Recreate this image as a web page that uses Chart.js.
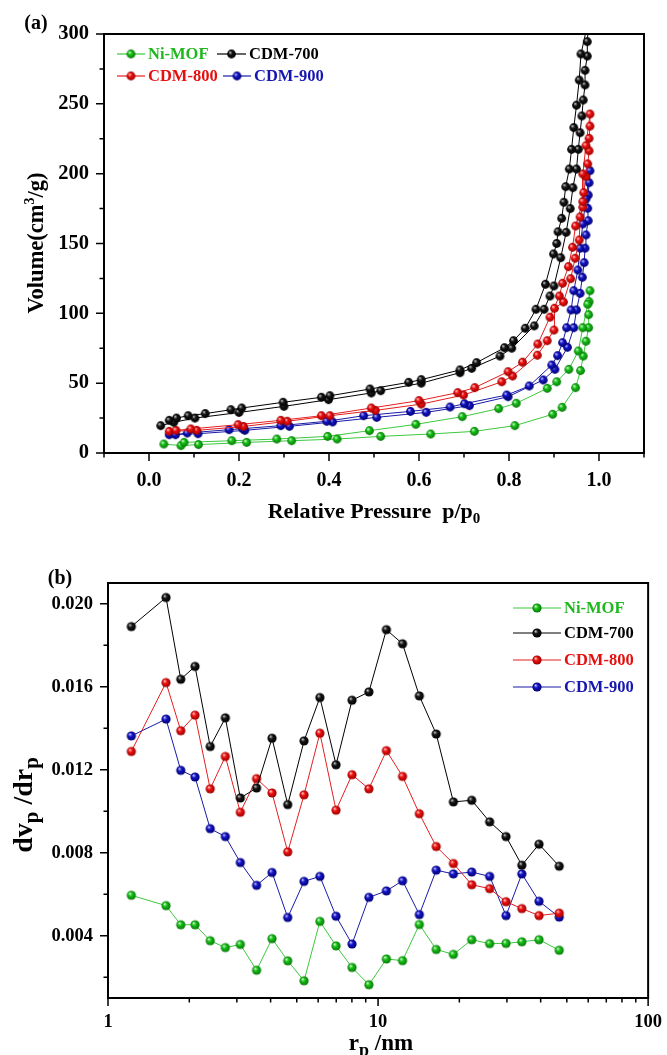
<!DOCTYPE html>
<html>
<head>
<meta charset="utf-8">
<script src="https://cdn.jsdelivr.net/npm/chart.js@4.4.0/dist/chart.umd.min.js"></script>
<style>
html, body { margin: 0; padding: 0; background: #fff; }
#wrap { position: relative; width: 667px; height: 1055px; }
.box { position: absolute; left: 0; width: 667px; }
#boxA { top: 0; height: 530px; }
#boxB { top: 530px; height: 525px; }
</style>
</head>
<body>
<div id="wrap">
  <div class="box" id="boxA"><canvas id="chartA"></canvas></div>
  <div class="box" id="boxB"><canvas id="chartB"></canvas></div>
</div>
<script>
// ---- (a) N2 isotherms: adsorption then desorption branch, p/p0 vs volume ----
const niAdsP = [0.033, 0.071, 0.110, 0.217, 0.317, 0.418, 0.515, 0.626, 0.723, 0.813, 0.897, 0.918, 0.948, 0.959, 0.965, 0.971, 0.977, 0.977, 0.978, 0.980];
const niAdsV = [6.4, 5.3, 6.0, 7.6, 8.8, 10.0, 11.9, 13.6, 15.5, 19.6, 27.7, 32.7, 46.8, 59.0, 69.4, 80.0, 89.7, 99.0, 108.3, 116.2];
const niDesP = [0.975, 0.964, 0.954, 0.933, 0.906, 0.885, 0.816, 0.777, 0.696, 0.593, 0.490, 0.397, 0.284, 0.184, 0.078];
const niDesV = [106.5, 89.7, 73.0, 59.9, 51.0, 46.3, 35.6, 31.8, 26.0, 20.5, 16.0, 11.9, 10.0, 8.8, 7.6];

const c700AdsP = [0.026, 0.055, 0.102, 0.200, 0.300, 0.399, 0.494, 0.515, 0.605, 0.691, 0.717, 0.780, 0.806, 0.856, 0.878, 0.891, 0.900, 0.915, 0.927, 0.936, 0.942, 0.950, 0.954, 0.958, 0.962, 0.965, 0.969, 0.969, 0.974, 0.974, 0.978];
const c700AdsV = [19.6, 22.0, 25.0, 29.0, 33.4, 38.2, 43.0, 44.6, 50.0, 57.5, 60.6, 69.4, 75.0, 91.0, 102.9, 112.4, 119.6, 139.8, 158.0, 175.0, 190.0, 203.3, 217.4, 229.3, 241.3, 252.7, 263.5, 274.0, 284.2, 294.5, 312.0];
const c700DesP = [0.960, 0.956, 0.950, 0.944, 0.939, 0.934, 0.926, 0.922, 0.917, 0.909, 0.906, 0.899, 0.881, 0.860, 0.836, 0.810, 0.790, 0.728, 0.691, 0.605, 0.577, 0.491, 0.402, 0.383, 0.298, 0.206, 0.182, 0.125, 0.087, 0.061, 0.045];
const c700DesV = [285.7, 267.0, 249.0, 233.0, 217.4, 203.3, 190.7, 179.5, 168.0, 158.4, 150.0, 142.5, 120.8, 102.9, 89.3, 80.4, 75.4, 64.7, 59.5, 52.5, 50.6, 45.8, 41.0, 39.9, 36.3, 32.2, 31.0, 28.2, 26.7, 25.0, 23.4];

const c800AdsP = [0.045, 0.106, 0.210, 0.307, 0.402, 0.503, 0.605, 0.699, 0.784, 0.808, 0.863, 0.885, 0.900, 0.901, 0.921, 0.937, 0.947, 0.956, 0.958, 0.964, 0.966, 0.971, 0.975, 0.978, 0.978, 0.980, 0.980];
const c800AdsV = [15.5, 16.2, 19.0, 22.7, 26.7, 30.5, 35.0, 41.5, 51.0, 55.1, 70.0, 80.4, 88.0, 103.6, 108.1, 124.8, 139.4, 152.5, 169.0, 176.0, 186.4, 197.8, 207.0, 216.4, 225.3, 234.0, 242.7];
const c800DesP = [0.971, 0.964, 0.964, 0.948, 0.941, 0.932, 0.919, 0.912, 0.891, 0.864, 0.830, 0.798, 0.724, 0.686, 0.600, 0.494, 0.383, 0.293, 0.198, 0.093, 0.060];
const c800DesV = [220.0, 199.8, 180.0, 162.5, 147.3, 133.4, 121.5, 112.4, 97.2, 78.0, 65.0, 58.2, 46.8, 43.2, 37.5, 32.2, 26.7, 23.4, 20.3, 17.2, 16.2];

const c900AdsP = [0.045, 0.109, 0.213, 0.312, 0.408, 0.506, 0.616, 0.712, 0.798, 0.876, 0.902, 0.930, 0.944, 0.950, 0.958, 0.963, 0.967, 0.969, 0.971, 0.976, 0.975, 0.976, 0.978, 0.980];
const c900AdsV = [13.1, 13.8, 16.2, 19.1, 22.2, 25.5, 29.1, 33.9, 40.3, 52.3, 59.9, 75.7, 89.7, 102.4, 114.3, 125.8, 136.3, 146.6, 156.1, 166.3, 175.2, 184.7, 193.5, 202.1];
const c900DesP = [0.971, 0.964, 0.958, 0.953, 0.944, 0.938, 0.928, 0.919, 0.908, 0.895, 0.845, 0.795, 0.701, 0.669, 0.581, 0.477, 0.395, 0.293, 0.208, 0.178, 0.085, 0.059];
const c900DesV = [181.9, 164.0, 146.6, 131.0, 116.2, 102.4, 89.7, 79.0, 69.7, 63.0, 48.0, 41.5, 35.3, 32.9, 29.8, 26.7, 22.7, 19.6, 17.4, 16.7, 14.3, 13.1];

const aXTicks = [0.0, 0.2, 0.4, 0.6, 0.8, 1.0];
const aXMinor = [-0.1, 0.1, 0.3, 0.5, 0.7, 0.9, 1.1];
const aYTicks = [0, 50, 100, 150, 200, 250, 300];
const aYMinor = [25, 75, 125, 175, 225, 275];

// ---- (b) pore size distribution ----
const poreR = [1.22, 1.64, 1.86, 2.10, 2.39, 2.72, 3.09, 3.55, 4.05, 4.63, 5.32, 6.09, 6.99, 8.01, 9.25, 10.74, 12.32, 14.22, 16.42, 19.01, 22.22, 25.90, 29.78, 34.07, 39.45, 46.86];
const niPsd = [0.00595, 0.00545, 0.00453, 0.00453, 0.00376, 0.00343, 0.00358, 0.00234, 0.00386, 0.00279, 0.00183, 0.00469, 0.00351, 0.00247, 0.00164, 0.00288, 0.00280, 0.00454, 0.00334, 0.00310, 0.00381, 0.00362, 0.00363, 0.00371, 0.00381, 0.00330];
const c700Psd = [0.01890, 0.02030, 0.01636, 0.01698, 0.01312, 0.01450, 0.01064, 0.01112, 0.01352, 0.01032, 0.01339, 0.01548, 0.01224, 0.01535, 0.01575, 0.01875, 0.01807, 0.01556, 0.01372, 0.01045, 0.01053, 0.00949, 0.00878, 0.00740, 0.00841, 0.00735];
const c800Psd = [0.01288, 0.01620, 0.01388, 0.01463, 0.01108, 0.01264, 0.00995, 0.01157, 0.01088, 0.00804, 0.01079, 0.01376, 0.01005, 0.01176, 0.01108, 0.01292, 0.01168, 0.00988, 0.00830, 0.00748, 0.00646, 0.00627, 0.00564, 0.00531, 0.00497, 0.00509];
const c900Psd = [0.01363, 0.01444, 0.01197, 0.01165, 0.00916, 0.00878, 0.00753, 0.00643, 0.00705, 0.00488, 0.00662, 0.00686, 0.00494, 0.00360, 0.00585, 0.00616, 0.00665, 0.00502, 0.00716, 0.00698, 0.00707, 0.00686, 0.00497, 0.00698, 0.00566, 0.00490];

const bXTicks = [1, 10, 100];
const bXMinor = [2, 3, 4, 5, 6, 7, 8, 9, 20, 30, 40, 50, 60, 70, 80, 90];
const bYTicks = [0.004, 0.008, 0.012, 0.016, 0.020];
const bYMinor = [0.002, 0.006, 0.010, 0.014, 0.018];

const seriesNames = ['Ni-MOF', 'CDM-700', 'CDM-800', 'CDM-900'];

const FONT = '"Liberation Serif", "Times New Roman", serif';

// shaded ball marker
function ball(body, hi, dark, r) {
    const c = document.createElement('canvas');
    const s = Math.ceil(r * 2 + 2);
    c.width = s; c.height = s;
    const g = c.getContext('2d');
    const cx = s / 2, cy = s / 2;
    const grad = g.createRadialGradient(cx - r * 0.35, cy - r * 0.4, r * 0.05, cx, cy, r);
    grad.addColorStop(0, hi);
    grad.addColorStop(0.4, body);
    grad.addColorStop(1, dark);
    g.fillStyle = grad;
    g.beginPath();
    g.arc(cx, cy, r, 0, Math.PI * 2);
    g.fill();
    return c;
}

const colors = [
    { line: '#3cc83c', text: '#1fb81f', body: '#16c016', hi: '#d8ffd8', dark: '#087808' },
    { line: '#000000', text: '#000000', body: '#151515', hi: '#c8c8c8', dark: '#000000' },
    { line: '#e61e1e', text: '#e41010', body: '#f01010', hi: '#ffd0d0', dark: '#980000' },
    { line: '#1a1aa8', text: '#1616b0', body: '#1414c8', hi: '#c8c8ff', dark: '#000070' }
];

function loop(adsP, adsV, desP, desV) {
    return adsP.map((p, i) => ({ x: p, y: adsV[i] }))
        .concat(desP.map((p, i) => ({ x: p, y: desV[i] })));
}

function drawRich(ctx, parts, x, y, rot, color) {
    ctx.save();
    ctx.translate(x, y);
    if (rot) ctx.rotate(rot);
    ctx.fillStyle = color || '#000';
    ctx.textBaseline = 'alphabetic';
    let w = 0;
    parts.forEach(p => {
        ctx.font = 'bold ' + p.size + 'px ' + FONT;
        p.w = ctx.measureText(p.t).width;
        w += p.w;
    });
    let cx = -w / 2;
    parts.forEach(p => {
        ctx.font = 'bold ' + p.size + 'px ' + FONT;
        ctx.fillText(p.t, cx, p.dy || 0);
        cx += p.w;
    });
    ctx.restore();
}

// frame + major/minor tick marks
const framePlugin = {
    id: 'frame',
    afterDatasetsDraw(chart, args, opts) {
        const { ctx, chartArea: a } = chart;
        const xs = chart.scales.x, ys = chart.scales.y;
        ctx.save();
        ctx.strokeStyle = '#000';
        ctx.lineWidth = 1.5;
        ctx.beginPath();
        opts.xMajor.forEach(v => { const px = xs.getPixelForValue(v); ctx.moveTo(px, a.bottom); ctx.lineTo(px, a.bottom + 8); });
        opts.xMinor.forEach(v => { const px = xs.getPixelForValue(v); ctx.moveTo(px, a.bottom); ctx.lineTo(px, a.bottom + 4.5); });
        opts.yMajor.forEach(v => { const py = ys.getPixelForValue(v); ctx.moveTo(a.left, py); ctx.lineTo(a.left - 8, py); });
        opts.yMinor.forEach(v => { const py = ys.getPixelForValue(v); ctx.moveTo(a.left, py); ctx.lineTo(a.left - 4.5, py); });
        ctx.stroke();
        ctx.lineWidth = 2;
        ctx.strokeRect(a.left, a.top, a.right - a.left, a.bottom - a.top);
        ctx.restore();
    }
};

// titles, panel letters and the hand-placed legend
const textPlugin = {
    id: 'texts',
    afterDraw(chart, args, opts) {
        const ctx = chart.ctx;
        (opts.items || []).forEach(it => drawRich(ctx, it.parts, it.x, it.y, it.rot, it.color));
        (opts.legend || []).forEach(it => {
            const ds = chart.data.datasets[it.index];
            ctx.save();
            ctx.strokeStyle = ds.borderColor;
            ctx.lineWidth = 1.2;
            ctx.beginPath();
            ctx.moveTo(it.x0, it.y);
            ctx.lineTo(it.x1, it.y);
            ctx.stroke();
            const img = ds.pointStyle;
            const mx = (it.x0 + it.x1) / 2;
            ctx.drawImage(img, mx - img.width / 2, it.y - img.height / 2);
            ctx.fillStyle = colors[it.index].text;
            ctx.font = 'bold ' + opts.legendSize + 'px ' + FONT;
            ctx.textBaseline = 'middle';
            ctx.fillText(seriesNames[it.index], it.x1 + 3, it.y + 1);
            ctx.restore();
        });
    }
};

const tickFont = size => ({ family: FONT, size: size, weight: 'bold' });

// ---------- chart (a) ----------
const loopsA = [
    loop(niAdsP, niAdsV, niDesP, niDesV),
    loop(c700AdsP, c700AdsV, c700DesP, c700DesV),
    loop(c800AdsP, c800AdsV, c800DesP, c800DesV),
    loop(c900AdsP, c900AdsV, c900DesP, c900DesV)
];

new Chart(document.getElementById('chartA'), {
    type: 'line',
    data: {
        datasets: loopsA.map((d, i) => ({
            label: seriesNames[i],
            data: d,
            borderColor: colors[i].line,
            borderWidth: 1,
            tension: 0,
            pointStyle: ball(colors[i].body, colors[i].hi, colors[i].dark, 4.4),
            pointRadius: 4
        }))
    },
    options: {
        responsive: true,
        maintainAspectRatio: false,
        animation: false,
        layout: { padding: { top: 34, right: 23, left: 0, bottom: 0 } },
        plugins: {
            legend: { display: false },
            tooltip: { enabled: false },
            frame: { xMajor: aXTicks, xMinor: aXMinor, yMajor: aYTicks, yMinor: aYMinor },
            texts: {
                legendSize: 16.5,
                items: [
                    { parts: [{ t: '(a)', size: 20 }], x: 36, y: 29 },
                    { parts: [{ t: 'Volume(cm', size: 22.5 }, { t: '3', size: 14, dy: -9 }, { t: '/g)', size: 22.5 }], x: 43, y: 243, rot: -Math.PI / 2 },
                    { parts: [{ t: 'Relative Pressure  p/p', size: 22 }, { t: '0', size: 15, dy: 5 }], x: 374, y: 518 }
                ],
                legend: [
                    { index: 0, x0: 117, x1: 145, y: 54 },
                    { index: 1, x0: 217, x1: 246, y: 54 },
                    { index: 2, x0: 117, x1: 145, y: 76 },
                    { index: 3, x0: 223, x1: 251, y: 76 }
                ]
            }
        },
        scales: {
            x: {
                type: 'linear', min: -0.1, max: 1.1,
                grid: { display: false, tickLength: 8 },
                border: { display: false },
                afterBuildTicks: s => { s.ticks = aXTicks.map(v => ({ value: v })); },
                afterFit: s => { s.height = 77; },
                ticks: { autoSkip: false, maxRotation: 0, padding: 8, color: '#000', font: tickFont(20), callback: v => v.toFixed(1) }
            },
            y: {
                type: 'linear', min: 0, max: 300,
                grid: { display: false, tickLength: 8 },
                border: { display: false },
                afterBuildTicks: s => { s.ticks = aYTicks.map(v => ({ value: v })); },
                afterFit: s => { s.width = 104; },
                ticks: { autoSkip: false, padding: 7, color: '#000', font: tickFont(20.5), callback: v => String(v) }
            }
        }
    },
    plugins: [framePlugin, textPlugin]
});

// ---------- chart (b) ----------
const psd = [niPsd, c700Psd, c800Psd, c900Psd];

new Chart(document.getElementById('chartB'), {
    type: 'line',
    data: {
        datasets: psd.map((vals, i) => ({
            label: seriesNames[i],
            data: poreR.map((r, j) => ({ x: r, y: vals[j] })),
            borderColor: colors[i].line,
            borderWidth: 1,
            tension: 0,
            pointStyle: ball(colors[i].body, colors[i].hi, colors[i].dark, 4.6),
            pointRadius: 4
        }))
    },
    options: {
        responsive: true,
        maintainAspectRatio: false,
        animation: false,
        layout: { padding: { top: 53, right: 15, left: 0, bottom: 0 } },
        plugins: {
            legend: { display: false },
            tooltip: { enabled: false },
            frame: { xMajor: bXTicks, xMinor: bXMinor, yMajor: bYTicks, yMinor: bYMinor },
            texts: {
                legendSize: 16.5,
                items: [
                    { parts: [{ t: '(b)', size: 20 }], x: 60, y: 54 },
                    { parts: [{ t: 'dv', size: 28 }, { t: 'p', size: 21, dy: 6 }, { t: ' /dr', size: 28 }, { t: 'p', size: 21, dy: 6 }], x: 32, y: 275, rot: -Math.PI / 2 },
                    { parts: [{ t: 'r', size: 23 }, { t: 'p', size: 18, dy: 6 }, { t: ' /nm', size: 23 }], x: 381, y: 520 }
                ],
                legend: [
                    { index: 0, x0: 513, x1: 561, y: 78 },
                    { index: 1, x0: 513, x1: 561, y: 103 },
                    { index: 2, x0: 513, x1: 561, y: 130 },
                    { index: 3, x0: 513, x1: 561, y: 157 }
                ]
            }
        },
        scales: {
            x: {
                type: 'logarithmic', min: 1, max: 100,
                grid: { display: false, tickLength: 8 },
                border: { display: false },
                afterBuildTicks: s => { s.ticks = bXTicks.map(v => ({ value: v })); },
                afterFit: s => { s.height = 57; },
                ticks: { autoSkip: false, maxRotation: 0, padding: 5, color: '#000', font: tickFont(18.5), callback: v => String(v) }
            },
            y: {
                type: 'linear', min: 0.001, max: 0.021,
                grid: { display: false, tickLength: 8 },
                border: { display: false },
                afterBuildTicks: s => { s.ticks = bYTicks.map(v => ({ value: v })); },
                afterFit: s => { s.width = 108; },
                ticks: { autoSkip: false, padding: 7, color: '#000', font: tickFont(18.5), callback: v => v.toFixed(3) }
            }
        }
    },
    plugins: [framePlugin, textPlugin]
});
</script>
</body>
</html>
